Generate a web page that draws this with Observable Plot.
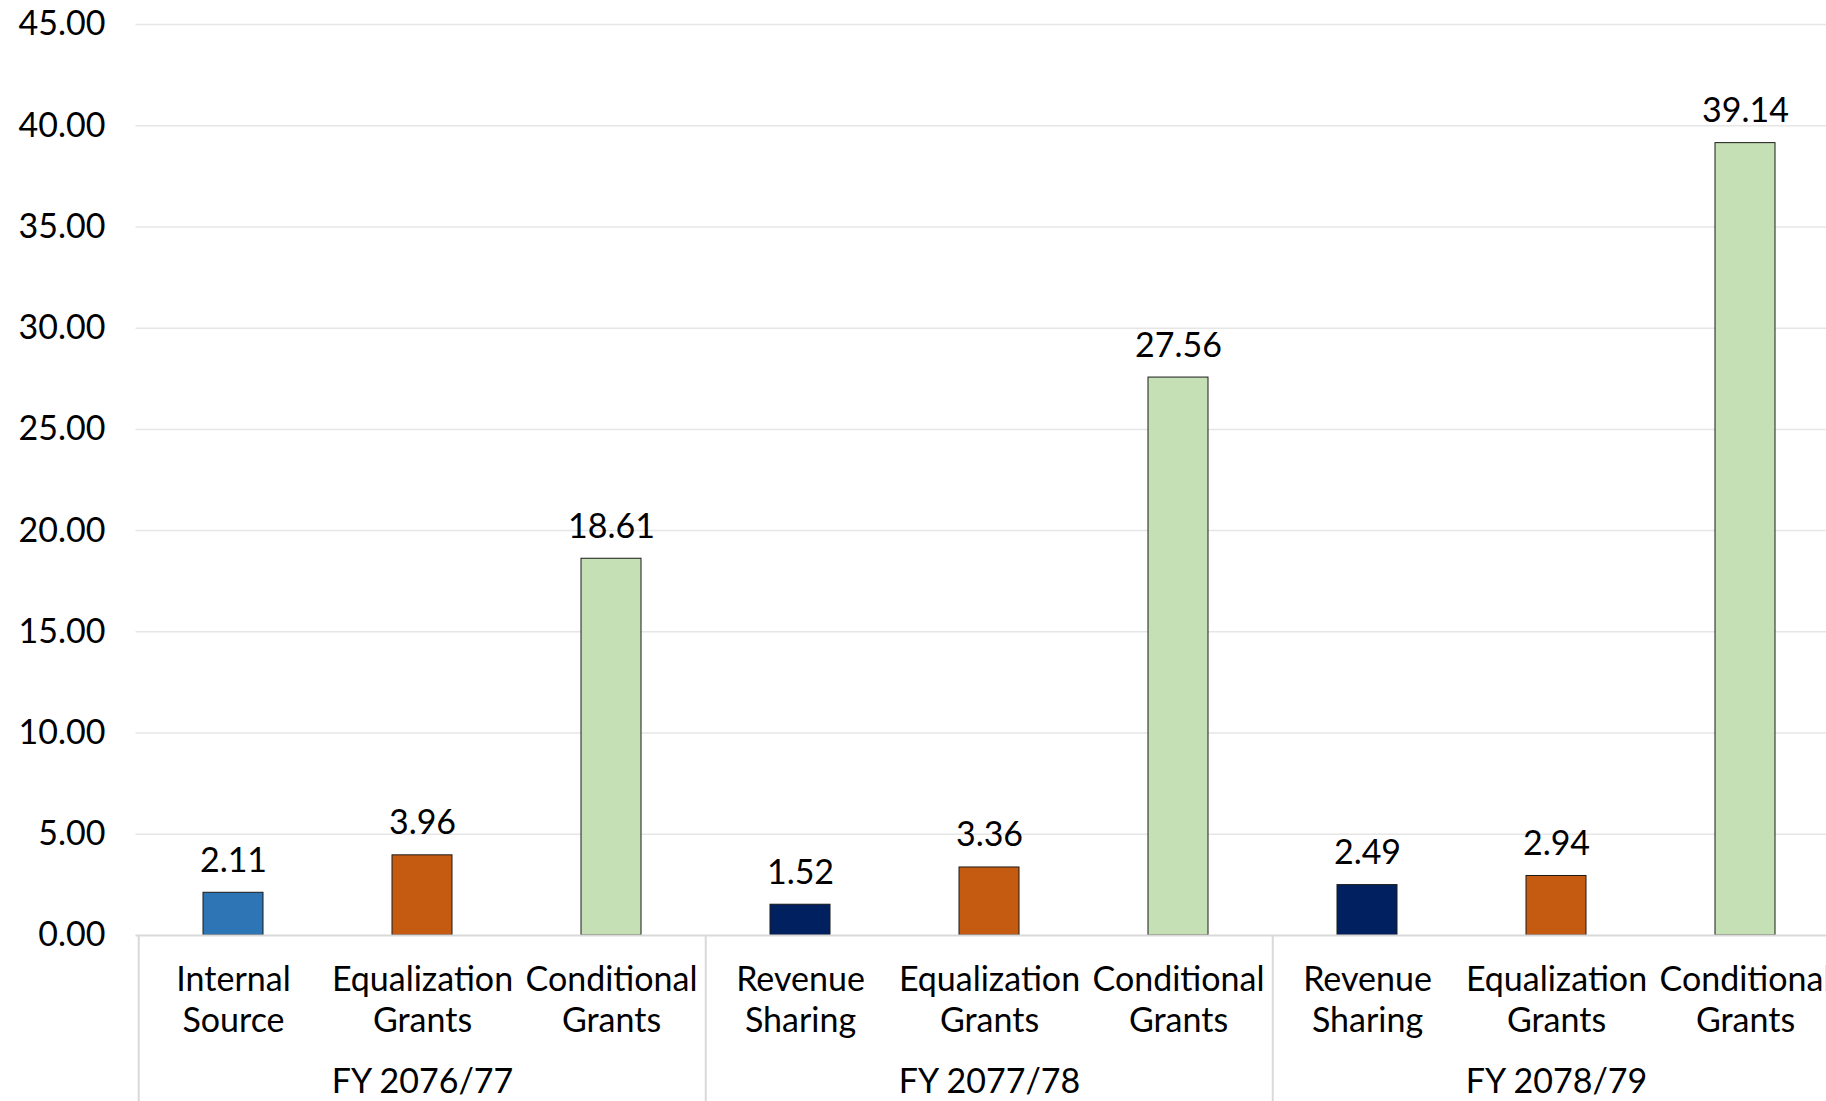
<!DOCTYPE html>
<html>
<head>
<meta charset="utf-8">
<script src="https://cdn.jsdelivr.net/npm/d3@7"></script>
<script src="https://cdn.jsdelivr.net/npm/@observablehq/plot@0.6"></script>
<style>
  html, body { margin: 0; padding: 0; background: #fff; overflow: hidden; }
  #chart { width: 1826px; height: 1101px; overflow: hidden; }
</style>
</head>
<body>
<div id="chart"></div>
<script>
// ---- data ----
const years = ["FY 2076/77", "FY 2077/78", "FY 2078/79"];
const barYears = ["FY 2076/77", "FY 2076/77", "FY 2076/77",
                  "FY 2077/78", "FY 2077/78", "FY 2077/78",
                  "FY 2078/79", "FY 2078/79", "FY 2078/79"];
const barCategories = ["Internal Source", "Equalization Grants", "Conditional Grants",
                       "Revenue Sharing", "Equalization Grants", "Conditional Grants",
                       "Revenue Sharing", "Equalization Grants", "Conditional Grants"];
const barValues = [2.11, 3.96, 18.61, 1.52, 3.36, 27.56, 2.49, 2.94, 39.14];
const yTicks = [0, 5, 10, 15, 20, 25, 30, 35, 40, 45];
const colorCategories = ["Internal Source", "Revenue Sharing", "Equalization Grants", "Conditional Grants"];
const colorValues = ["#2E75B6", "#002060", "#C55A11", "#C5E0B4"];

// ---- derived table ----
const data = barValues.map((v, i) => ({
  key: barYears[i] + "|" + barCategories[i],
  year: barYears[i],
  category: barCategories[i],
  label: barCategories[i].replace(" ", "\n"),
  value: v
}));
const keys = data.map(d => d.key);
const groups = years.map(y => {
  const ks = data.filter(d => d.year === y).map(d => d.key);
  return {year: y, first: ks[0], middle: ks[Math.floor(ks.length / 2)]};
});

const W = 1826, H = 1101;
const mTop = 24, mBottom = 166, mLeft = 135.5;
const xRange = [mLeft, 1841.5];
const step = (xRange[1] - xRange[0]) / keys.length;
const pxPerUnit = (H - mBottom - mTop) / 45;
const yBottom = -mBottom / pxPerUnit;
const FS = 34;
const font = "Lato, 'Noto Sans', sans-serif";

const plot = Plot.plot({
  width: W,
  height: H,
  marginTop: mTop,
  marginBottom: mBottom,
  marginLeft: mLeft,
  marginRight: 0,
  style: {fontFamily: font, fontSize: FS + "px", color: "#000", background: "#fff", overflow: "hidden"},
  x: {type: "band", domain: keys, range: xRange, paddingInner: 0.683, paddingOuter: 0.3415, axis: null},
  y: {domain: [0, 45], axis: null},
  color: {domain: colorCategories, range: colorValues},
  marks: [
    Plot.gridY(yTicks.filter(t => t > 0), {stroke: "#e6e6e6", strokeOpacity: 1, strokeWidth: 1.5}),
    Plot.axisY({ticks: yTicks, tickFormat: d => d.toFixed(2), tickSize: 0, tickPadding: 30.5,
                fontSize: FS, fill: "#000", label: null}),
    Plot.barY(data, {x: "key", y: "value", fill: "category", stroke: "#1a1a1a", strokeWidth: 1}),
    Plot.ruleY([0], {stroke: "#d9d9d9", strokeWidth: 2}),
    Plot.ruleX(groups, {x: "first", dx: -step / 2, y1: 0, y2: yBottom, stroke: "#d9d9d9", strokeWidth: 2}),
    Plot.text(data, {x: "key", y: "value", text: d => d.value.toFixed(2), lineAnchor: "bottom",
                     dy: -21, fontSize: FS, fill: "#000"}),
    Plot.text(data, {x: "key", frameAnchor: "bottom", text: "label", lineAnchor: "top",
                     dy: 26.5, lineHeight: 1.2, fontSize: FS, fill: "#000"}),
    Plot.text(groups, {x: "middle", frameAnchor: "bottom", text: "year", lineAnchor: "top",
                       dy: 133, fontSize: FS, fill: "#000"})
  ]
});
document.getElementById("chart").appendChild(plot);
</script>
</body>
</html>
